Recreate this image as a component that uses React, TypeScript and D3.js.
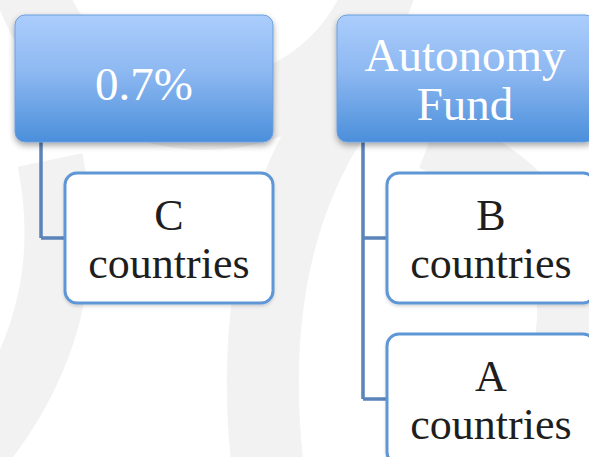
import * as d3 from "d3";
import * as React from "react";

// hierarchy content
const headers = ["0.7%", "Autonomy Fund"];
const childGroups = [["C countries"], ["B countries", "A countries"]];

const W = 589;
const H = 457;

// faint watermark bands behind the diagram
const bands = [
  { d: "M 50 160 Q 85 330 -40 470", w: 66 },
  { d: "M 400 40 C 300 130 245 270 268 470", w: 72 },
  { d: "M 430 140 Q 585 200 565 340", w: 60 },
];

export default function App() {
  const col = d3.scaleLinear().domain([0, 1]).range([15, 337]);
  const row = d3.scaleLinear().domain([0, 1]).range([173, 334]);

  const headW = 258;
  const headH = 127;
  const headY = 15;
  const childW = 208;
  const childH = 130;
  const childDx = 50;
  const stemDx = 26;

  const font = "'Liberation Serif', 'Times New Roman', serif";

  return (
    <svg
      width={W}
      height={H}
      style={{ position: "absolute", left: 0, top: 0, background: "#fff" }}
    >
      <defs>
        <linearGradient id="headFill" x1="0" y1="0" x2="0" y2="1">
          <stop offset="0%" stopColor="#abcdfc" />
          <stop offset="45%" stopColor="#8db8f1" />
          <stop offset="100%" stopColor="#4b8fdb" />
        </linearGradient>
        <filter id="shadow" x="-10%" y="-10%" width="120%" height="130%">
          <feDropShadow dx="0" dy="3" stdDeviation="3" floodColor="#000" floodOpacity="0.35" />
        </filter>
        <filter id="softShadow" x="-10%" y="-10%" width="120%" height="130%">
          <feDropShadow dx="0" dy="2" stdDeviation="1.5" floodColor="#000" floodOpacity="0.15" />
        </filter>
      </defs>

      <g fill="none" stroke="#f2f2f2">
        <circle cx={205} cy={-70} r={185} strokeWidth={70} />
        {bands.map((b, i) => (
          <path key={i} d={b.d} strokeWidth={b.w} />
        ))}
      </g>

      {headers.map((h, i) => {
        const x0 = col(i);
        const stemX = x0 + stemDx;
        const kids = childGroups[i];
        const lastY = row(kids.length - 1) + childH / 2;
        const lines = h.split(" ");
        const cx = x0 + headW / 2;
        const path = d3.path();
        path.moveTo(stemX, headY + headH);
        path.lineTo(stemX, lastY);
        kids.forEach((_, j) => {
          const cy = row(j) + childH / 2;
          path.moveTo(stemX, cy);
          path.lineTo(x0 + childDx, cy);
        });
        return (
          <g key={h}>
            <path
              d={path.toString()}
              fill="none"
              stroke="#5a84ba"
              strokeWidth={3.5}
            />
            <rect
              x={x0}
              y={headY}
              width={headW}
              height={headH}
              rx={10}
              fill="url(#headFill)"
              stroke="#6a9fe0"
              strokeWidth={1}
              filter="url(#shadow)"
            />
            {lines.length === 1 ? (
              <text
                x={cx}
                y={100}
                textAnchor="middle"
                fill="#fff"
                fontFamily={font}
                fontSize={47}
              >
                {h}
              </text>
            ) : (
              lines.map((t, k) => (
                <text
                  key={k}
                  x={cx - 1}
                  y={71 + k * 49}
                  textAnchor="middle"
                  fill="#fff"
                  fontFamily={font}
                  fontSize={47}
                >
                  {t}
                </text>
              ))
            )}
            {kids.map((c, j) => {
              const y0 = row(j);
              const kx = x0 + childDx;
              const parts = c.split(" ");
              return (
                <g key={c}>
                  <rect
                    x={kx}
                    y={y0}
                    width={childW}
                    height={childH}
                    rx={12}
                    fill="#fff"
                    stroke="#5e97d6"
                    strokeWidth={3}
                    filter="url(#softShadow)"
                  />
                  {parts.map((t, k) => (
                    <text
                      key={k}
                      x={kx + childW / 2}
                      y={y0 + 57 + k * 48}
                      textAnchor="middle"
                      fill="#1e1e1e"
                      fontFamily={font}
                      fontSize={44}
                    >
                      {t}
                    </text>
                  ))}
                </g>
              );
            })}
          </g>
        );
      })}
    </svg>
  );
}
